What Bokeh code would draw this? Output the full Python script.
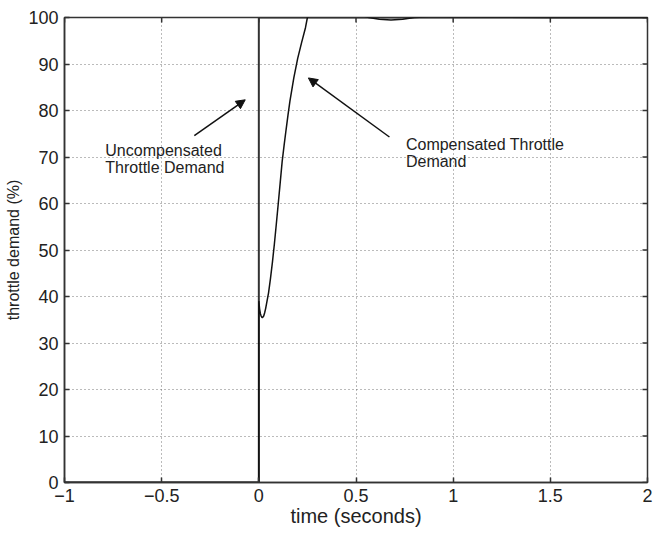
import math
from bokeh.plotting import figure
from bokeh.models import Range1d, FixedTicker, Arrow, NormalHead, Label
from bokeh.embed import file_html
from bokeh.resources import INLINE

# ---- data ----
x_min, x_max = -1, 2
y_min, y_max = 0, 100
x_ticks = [-1, -0.5, 0, 0.5, 1, 1.5, 2]
x_tick_labels = ["\u22121", "\u22120.5", "0", "0.5", "1", "1.5", "2"]
y_ticks = [0, 10, 20, 30, 40, 50, 60, 70, 80, 90, 100]

uncomp_t = [-1, 0, 0, 2]
uncomp_v = [0, 0, 100, 100]

comp_t = [-1, 0, 0, 0.004, 0.008, 0.012, 0.016, 0.02, 0.025, 0.03, 0.035, 0.04,
          0.05, 0.06, 0.07, 0.08, 0.09, 0.10, 0.11, 0.12, 0.13, 0.14, 0.15, 0.16,
          0.18, 0.20, 0.22, 0.24, 0.25, 0.3, 0.4, 0.5, 0.566, 0.62, 0.68, 0.74,
          0.80, 0.9, 1.0, 1.5, 2.0]
comp_v = [0, 0, 39, 37.3, 36.3, 35.8, 35.5, 35.5, 35.8, 36.5, 37.4, 38.5,
          40.8, 43.9, 47.4, 51.3, 55.6, 60, 64.5, 69, 72.5, 75.8, 79, 82,
          87, 91.2, 94.6, 97.8, 100, 101.5, 101.8, 100.8, 100, 99.6, 99.45, 99.6,
          100, 100.2, 100.1, 100, 100]

ann_uncomp_text = "Uncompensated\nThrottle Demand"
ann_uncomp_xy = (-0.79, 73.3)
ann_uncomp_tail = (-0.332, 74.6)
ann_uncomp_head = (-0.07, 82.3)

ann_comp_text = "Compensated Throttle\nDemand"
ann_comp_xy = (0.757, 74.6)
ann_comp_tail = (0.672, 74.3)
ann_comp_head = (0.255, 87.0)

FONT = "Liberation Sans"
DARK = "#333333"

p = figure(width=653, height=534, output_backend="svg", toolbar_location=None,
           x_range=Range1d(x_min, x_max), y_range=Range1d(y_min, y_max),
           min_border_left=64, min_border_top=17, min_border_right=6, min_border_bottom=52)

p.background_fill_color = "white"
p.border_fill_color = "white"
p.outline_line_color = DARK
p.outline_line_width = 1.5

for ax in (p.xaxis[0], p.yaxis[0]):
    ax.major_tick_in = 5
    ax.major_tick_out = 0
    ax.minor_tick_in = 0
    ax.minor_tick_out = 0
    ax.axis_line_color = DARK
    ax.axis_line_width = 1.5
    ax.major_tick_line_color = DARK
    ax.major_tick_line_width = 1.5
    ax.major_label_text_font = FONT
    ax.major_label_text_color = "#222222"
    ax.axis_label_text_font = FONT
    ax.axis_label_text_font_style = "normal"
    ax.axis_label_text_color = "#222222"

p.xaxis.ticker = FixedTicker(ticks=x_ticks)
p.xaxis.major_label_overrides = {t: l for t, l in zip(x_ticks, x_tick_labels)}
p.xaxis.major_label_text_font_size = "18px"
p.xaxis.major_label_standoff = 6
p.xaxis.axis_label = "time (seconds)"
p.xaxis.axis_label_text_font_size = "20px"
p.xaxis.axis_label_standoff = 0

p.yaxis.ticker = FixedTicker(ticks=y_ticks)
p.yaxis.major_label_text_font_size = "18px"
p.yaxis.major_label_standoff = 6
p.yaxis.axis_label = "throttle demand (%)"
p.yaxis.axis_label_text_font_size = "16px"
p.yaxis.axis_label_standoff = 3

# inward box ticks on the top and right edges
p.ray(x=x_ticks, y=[y_max] * len(x_ticks), length=5, length_units="screen",
      angle=-math.pi / 2, line_color=DARK, line_width=1.5)
p.ray(x=[x_max] * len(y_ticks), y=y_ticks, length=5, length_units="screen",
      angle=math.pi, line_color=DARK, line_width=1.5)

# grid
p.xgrid.ticker = FixedTicker(ticks=x_ticks)
p.ygrid.ticker = FixedTicker(ticks=y_ticks)
for g in (p.xgrid[0], p.ygrid[0]):
    g.grid_line_color = "#555555"
    g.grid_line_dash = "1 3"
    g.grid_line_width = 1
    g.grid_line_alpha = 0.8

# lines
p.line(uncomp_t, uncomp_v, line_color=DARK, line_width=2)
p.line(comp_t, comp_v, line_color="#111111", line_width=1.5)

# annotations
for txt, xy in ((ann_uncomp_text, ann_uncomp_xy), (ann_comp_text, ann_comp_xy)):
    p.add_layout(Label(x=xy[0], y=xy[1], text=txt, text_font=FONT, text_font_size="16px",
                       text_color="#222222", text_baseline="top", text_align="left",
                       text_line_height=1.05))

for tail, head in ((ann_uncomp_tail, ann_uncomp_head), (ann_comp_tail, ann_comp_head)):
    p.add_layout(Arrow(x_start=tail[0], y_start=tail[1], x_end=head[0], y_end=head[1],
                       line_color="#111111", line_width=1.5,
                       end=NormalHead(size=9, fill_color="#111111", line_color="#111111")))

open("out.html", "w").write(file_html(p, INLINE))
